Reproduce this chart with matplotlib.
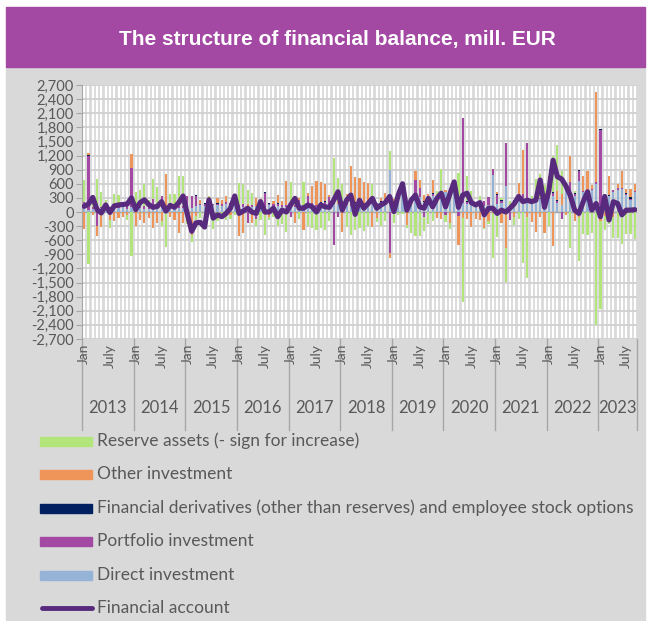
import numpy as np
import matplotlib.pyplot as plt
from matplotlib.patches import Rectangle
from matplotlib.lines import Line2D

# monthly data, Jan 2013 - Sep 2023 (mill. EUR)
years = ['2013', '2014', '2015', '2016', '2017', '2018', '2019', '2020', '2021', '2022', '2023']
months_in_year = [12, 12, 12, 12, 12, 12, 12, 12, 12, 12, 9]

direct = [80, 50, 60, 60, 80, 60, 90, 100, 80, 120, 60, 100,
          60, 80, 70, 60, 90, 70, 90, 60, 80, 60, 90, 80,
          100, 80, 120, 150, 130, 160, 140, 150, 130, 160, 130, 150,
          120, 100, 110, 100, 130, 120, 80, 150, 120, 130, 110, 100,
          120, 100, 120, 100, 150, 130, 110, 150, 120, 140, 180, 160,
          130, 150, 120, 150, 150, 130, 150, 170, 150, 160, 140, 890,
          140, 280, 450, 180, 200, 350, 320, 220, 250, 350, 200, 330,
          420, 280, 450, 120, 200, 180, 150, 120, 150, 130, 150, 790,
          180, 200, 560, 100, 200, 240, 300, 280, 200, 250, 270, 150,
          300, 350, 200, 150, 550, 250, 350, 650, 420, 380, 460, 600,
          150, 250, 350, 420, 470, 480, 360, 250, 420]

portfolio = [130, 1150, 40, -300, 30, 20, 10, 20, 30, 20, 130, 830,
             40, 30, 60, 40, 180, 40, 250, 20, 30, 40, 30, 50,
             240, 260, 230, 20, 50, 110, 20, 30, 30, 50, 60, 60,
             30, 60, -230, 40, -150, 100, 330, 30, 40, 50, 30, 40,
             -100, 40, 130, 40, 180, 60, 40, 50, 100, 170, -700, -110,
             60, 160, 40, 50, 40, 60, 50, 60, 40, 60, 50, -880,
             60, 40, 60, 40, 50, 330, 180, -100, 60, 40, 50, 30,
             -60, 50, 60, -80, 1790, 40, 40, 30, 30, 100, 160, 120,
             190, 40, 900, -180, 40, 40, 80, 1180, 40, 40, 30, 30,
             50, 60, 40, -150, 30, 380, 40, 220, 30, 40, 30, 40,
             1590, 30, -150, 40, 30, 30, 30, 30, 30]

derivatives = [5, 5, 5, 5, 5, 5, 5, 5, 5, 5, 5, 5,
               5, 5, 5, 5, 5, 5, 5, 5, 5, 5, 5, 5,
               5, 5, 5, 5, 5, 5, 5, 5, 5, 5, 5, 5,
               5, 5, 5, 5, 5, 5, 5, 5, 5, 5, 5, 5,
               5, 5, 5, 5, 5, 5, 5, 5, 5, 5, 5, 5,
               5, 5, 5, 5, 5, 5, 5, 5, 5, 5, 5, 5,
               5, 5, 5, 5, 5, 5, 5, 5, 5, 5, 5, 5,
               5, 5, 5, 5, 5, 5, 5, 5, 5, 5, 5, 5,
               5, 5, 5, 5, 5, 5, 5, 5, 5, 5, 5, 5,
               5, 5, 5, 5, 5, 5, 5, 30, 5, 5, 5, 5,
               30, 5, 5, 5, 5, 5, 5, 30, 5]

other = [-370, 50, -60, -220, -320, 40, -170, -200, -130, -100, -60, 300,
         -300, -170, -240, -120, -350, -240, -200, 730, -100, -160, -440, -240,
         -200, -490, -80, 80, -60, 40, -50, 120, 100, 120, -70, 100,
         -520, -450, 60, -240, 160, 60, -60, -110, 70, 180, 90, 520,
         60, -230, 40, -380, 60, 360, 500, 430, 360, 40, 80, 50,
         -420, 70, 810, 540, 520, 450, 420, -310, -120, 80, 200, -90,
         80, 50, 100, -280, 40, 190, 180, 130, 60, 280, -120, -150,
         40, -240, 100, -620, -120, -150, -310, -150, -170, -330, -200, -30,
         40, -240, -770, 40, -100, 330, 940, -100, -220, -420, -100, -450,
         400, -715, 200, 220, -60, 550, -200, -100, 300, 450, 80, 1900,
         -200, -80, 400, -100, 90, 360, 90, 170, 150]

reserve = [470, -1110, 120, 640, 300, 120, -170, 250, 250, 60, -100, -930,
           330, 360, 470, 150, 425, 425, -100, -740, 270, 280, 630, 630,
           -60, -150, -100, -120, -220, 30, -310, -190, -120, -170, -80, -60,
           470, 440, 300, 250, -150, -160, -420, -60, -100, -300, -260, -420,
           450, 200, -150, 490, -300, -340, -380, -340, -380, -200, 890, 500,
           400, -310, -490, -380, -330, -400, -300, 350, -100, -290, -200, 410,
           -230, -60, -40, -50, -450, -500, -520, -300, -250, -200, 200, 550,
           -150, -120, 30, 700, -1800, 550, 260, 60, 160, -40, -60, -950,
           -525, 60, -710, 80, -180, -150, -1080, -1300, 90, 410, 500, 380,
           -300, 770, 970, 500, 20, -770, 60, -950, -460, -480, -450, -2400,
           -1870, -300, -100, -460, -560, -670, -470, -460, -580]

fin_account = [120, 170, 310, 50, -20, 150, -10, 130, 150, 160, 170, 300,
               50, 200, 260, 160, 100, 120, 220, 20, 140, 100, 200, 340,
               -50, -410, -230, -220, -320, 260, -130, -60, -100, -30, 80, 340,
               -30, 20, 80, 0, -30, 220, 0, 0, 80, -100, 40, 0,
               150, 290, 80, 80, 150, 110, 0, 150, 110, 100, 250, 430,
               40, 250, 360, -50, 250, 80, 180, 290, 80, 150, 200, 330,
               10, 360, 600, 40, 250, 360, 110, 80, 290, 110, 290, 400,
               110, 380, 640, 100, 360, 400, 200, 150, 200, -60, 80, 80,
               -30, 40, 0, 80, 180, 330, 220, 250, 220, 250, 680, 100,
               450, 1100, 750, 700, 550, 350, 40, -30, 220, 430, 40, 180,
               -100, 330, -170, 220, 180, -60, 40, 40, 50]

names = ['Direct investment', 'Portfolio investment',
         'Financial derivatives (other than reserves) and employee stock options',
         'Other investment', 'Reserve assets (- sign for increase)']
colors = ['#95b3d7', '#a349a4', '#002060', '#f0955a', '#b3e67a']
line_color = '#582a7e'
gray_bg = '#d9d9d9'
text_gray = '#595959'

W, H = 651, 621
fig = plt.figure(figsize=(W / 100, H / 100), dpi=100)
fig.patch.set_facecolor('white')

def fx(px):
    return px / W

def fy(py):
    return 1 - py / H

# background panel and title band
fig.patches.append(Rectangle((fx(6), 0), fx(639), fy(67), transform=fig.transFigure,
                             color=gray_bg, zorder=-2))
fig.patches.append(Rectangle((fx(6), fy(67)), fx(639), 60 / H, transform=fig.transFigure,
                             color='#a349a4', zorder=-2))
fig.text(fx(337), fy(40), 'The structure of financial balance, mill. EUR', color='white',
         fontsize=15, fontweight='bold', family='Liberation Sans', ha='center', va='center')

ax = fig.add_axes([fx(82), fy(339), fx(637) - fx(82), fy(85) - fy(339)])
ax.set_zorder(1)
ax.set_facecolor(gray_bg)
n = len(direct)
x = np.arange(n)
ax.set_xlim(-0.5, n - 0.5)
ax.set_ylim(-2700, 2700)

# white month gridlines, grey value gridlines
for i in x:
    ax.axvline(i, color='white', lw=1.6, zorder=1)
yt = np.arange(-2700, 2701, 300)
for v in yt:
    ax.axhline(v, color='#d0d0d0', lw=1.3, zorder=1.5)

pos_base = np.zeros(n)
neg_base = np.zeros(n)
for vals, c in zip([direct, portfolio, derivatives, other, reserve], colors):
    v = np.array(vals, dtype=float)
    bottom = np.where(v >= 0, pos_base, neg_base)
    ax.bar(x, v, width=0.5, bottom=bottom, color=c, linewidth=0, zorder=3)
    pos_base += np.clip(v, 0, None)
    neg_base += np.clip(v, None, 0)

ax.axhline(0, color='#a6a6a6', lw=1, zorder=2.5)
ax.plot(x, fin_account, color=line_color, lw=3.7, solid_joinstyle='round',
        solid_capstyle='round', zorder=4)

for s in ['top', 'right', 'bottom']:
    ax.spines[s].set_visible(False)
ax.spines['left'].set_color('#a6a6a6')
ax.set_yticks(yt)
ax.set_yticklabels([f'{v:,}' for v in yt], fontsize=10.5, color=text_gray, family='Lato')
ax.tick_params(axis='y', length=4, color='#a6a6a6', pad=2)
ax.set_xticks([])

# month and year labels
trans = ax.get_xaxis_transform()
start = 0
for yr, cnt in zip(years, months_in_year):
    ax.text(start, -0.02, 'Jan', rotation=90, ha='center', va='top', transform=trans,
            fontsize=10, color=text_gray, family='Lato')
    if cnt > 6:
        ax.text(start + 6, -0.02, 'July', rotation=90, ha='center', va='top', transform=trans,
                fontsize=10, color=text_gray, family='Lato')
    ax.text(start + (cnt - 1) / 2, -0.27, yr, ha='center', va='center', transform=trans,
            fontsize=12, color=text_gray, family='Lato')
    ax.plot([start - 0.5, start - 0.5], [0, -0.36], color='#a6a6a6', lw=1,
            transform=trans, clip_on=False)
    start += cnt
ax.plot([start - 0.5, start - 0.5], [0, -0.36], color='#a6a6a6', lw=1,
        transform=trans, clip_on=False)

# legend
rows = [441, 474, 508, 541, 575, 608]
leg_items = list(zip(names, colors))[::-1]
for (name, c), ry in zip(leg_items, rows[:5]):
    fig.patches.append(Rectangle((fx(40), fy(ry + 4.5)), fx(52), 9 / H,
                                 transform=fig.transFigure, color=c, zorder=2))
    fig.text(fx(97), fy(ry), name, fontsize=12.5, color=text_gray, family='Lato',
             ha='left', va='center')
fig.lines.append(Line2D([fx(42), fx(92)], [fy(rows[5]), fy(rows[5])], transform=fig.transFigure,
                        color=line_color, lw=3.5, solid_capstyle='round'))
fig.text(fx(97), fy(rows[5]), 'Financial account', fontsize=12.5, color=text_gray,
         family='Lato', ha='left', va='center')

fig.savefig('out.png', dpi=100)
